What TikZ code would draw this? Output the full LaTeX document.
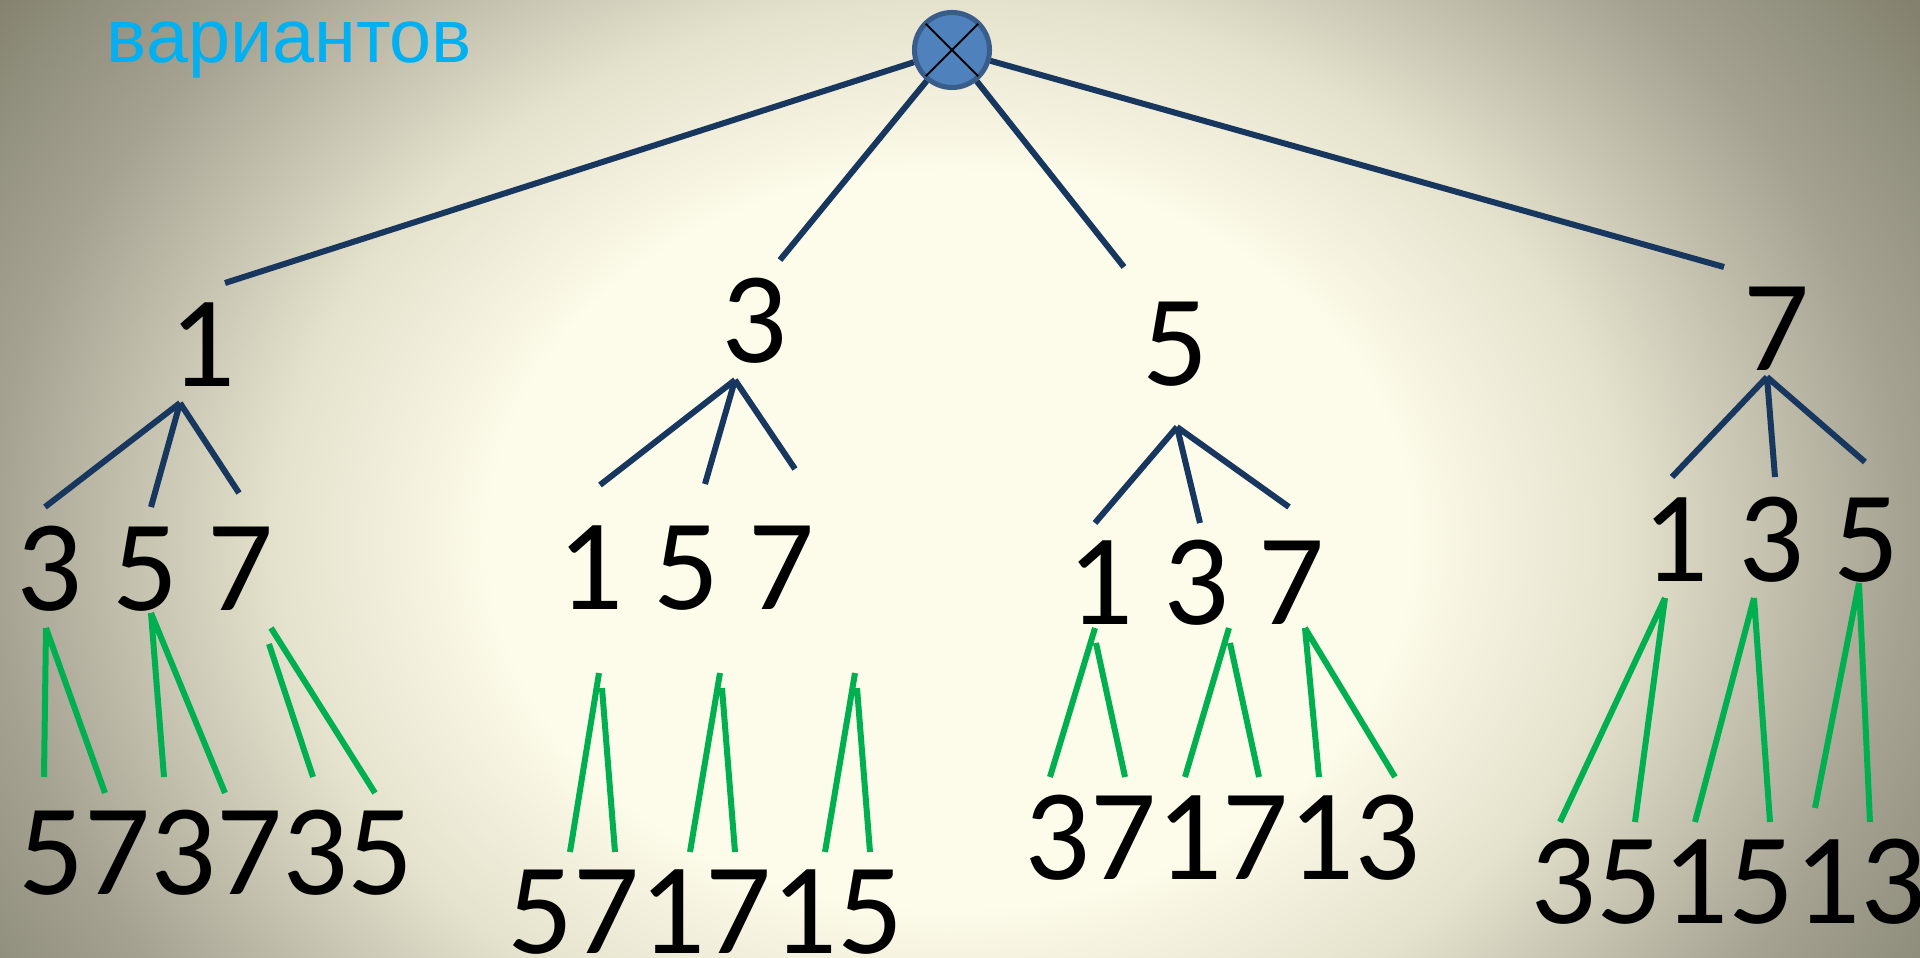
\documentclass[tikz,border=0pt]{standalone}
\usepackage{fontspec}
\setmainfont{Carlito}
\newfontfamily\rufont{Liberation Sans}
\definecolor{navy}{HTML}{17375E}
\definecolor{leafgreen}{HTML}{00B050}
\definecolor{titlecyan}{HTML}{00B0F0}
\definecolor{rootfill}{HTML}{4F81BD}
\definecolor{rootedge}{HTML}{385D8A}
\definecolor{bgin}{HTML}{FDFBE9}
\definecolor{bgmid}{HTML}{E4E1CC}
\definecolor{bgside}{HTML}{A5A292}
\definecolor{bgcorner}{HTML}{84826F}
\pgfdeclareradialshading{bgglow}{\pgfpoint{0bp}{0bp}}{color(0bp)=(bgin); color(9.2bp)=(bgin); color(13.5bp)=(bgmid); color(19.1bp)=(bgside); color(23.4bp)=(bgcorner); color(50bp)=(bgcorner)}
\tikzset{num/.style={inner sep=0pt, font=\fontsize{37}{40}\selectfont},
  blueline/.style={navy, line width=0.06cm},
  greenline/.style={leafgreen, line width=0.06cm}}

\begin{document}
\begin{tikzpicture}[x=0.01cm, y=-0.01cm]
      \useasboundingbox (0,0) rectangle (1920,958);
      \fill[bgcorner] (0,0) rectangle (1920,958);
      \begin{scope}
        \clip (0,0) rectangle (1920,958);
        \shade[shading=bgglow] (950,540) ellipse [x radius=12.5cm, y radius=10cm];
      \end{scope}

      \node[anchor=base west, inner sep=0pt, text=titlecyan, font=\rufont\fontsize{21.5}{26}\selectfont] (T) at (106,63) {вариантов};

      % root
      \node[circle, draw=rootedge, fill=rootfill, line width=0.05cm, minimum size=0.75cm, inner sep=0pt] (R) at (952,50) {};
      \draw[line width=0.02cm, shorten <=0.03cm, shorten >=0.03cm] (R.north west) -- (R.south east);
      \draw[line width=0.02cm, shorten <=0.03cm, shorten >=0.03cm] (R.north east) -- (R.south west);

      % first choice
      \node[num] (L1) at (202,345) {1};
      \node[num] (L3) at (754,321) {3};
      \node[num] (L5) at (1175,344) {5};
      \node[num] (L7) at (1776,329) {7};
      \coordinate (u1) at (225,283);
      \coordinate (u3) at (780,260);
      \coordinate (u5) at (1124,267);
      \coordinate (u7) at (1724,267);
      \draw[blueline] (R) -- (u1) (R) -- (u3) (R) -- (u5) (R) -- (u7);

      % second choice
      \node[num] (M1) at (145,569) {3 5 7};
      \node[num] (M3) at (686,568) {1 5 7};
      \node[num] (M5) at (1196,583) {1 3 7};
      \node[num] (M7) at (1771,540) {1 3 5};
      \coordinate (a1) at (180,403);
      \coordinate (a1l) at (45,507);
      \coordinate (a1m) at (151,507);
      \coordinate (a1r) at (239,493);
      \coordinate (a3) at (735,380);
      \coordinate (a3l) at (600,485);
      \coordinate (a3m) at (705,484);
      \coordinate (a3r) at (795,469);
      \coordinate (a5) at (1177,427);
      \coordinate (a5l) at (1095,523);
      \coordinate (a5m) at (1200,523);
      \coordinate (a5r) at (1289,507);
      \coordinate (a7) at (1767,377);
      \coordinate (a7l) at (1672,477);
      \coordinate (a7m) at (1775,477);
      \coordinate (a7r) at (1865,462);
      \draw[blueline] (a1) -- (a1l) (a1) -- (a1m) (a1) -- (a1r);
      \draw[blueline] (a3) -- (a3l) (a3) -- (a3m) (a3) -- (a3r);
      \draw[blueline] (a5) -- (a5l) (a5) -- (a5m) (a5) -- (a5r);
      \draw[blueline] (a7) -- (a7l) (a7) -- (a7m) (a7) -- (a7r);

      % third choice
      \node[num] (B1) at (216,853) {573735};
      \node[num] (B3) at (705,912) {571715};
      \node[num] (B5) at (1222,838) {371713};
      \node[num] (B7) at (1728,882) {351513};

      \coordinate (c1) at (46,628);    \coordinate (c1l) at (44,777);   \coordinate (c1r) at (105,793);
      \coordinate (c2) at (151,613);   \coordinate (c2l) at (164,777);  \coordinate (c2r) at (225,793);
      \coordinate (c3) at (271,628);   \coordinate (c3r) at (375,793);
      \coordinate (c3b) at (269,644);  \coordinate (c3l) at (313,777);
      \draw[greenline] (c1) -- (c1l) (c1) -- (c1r) (c2) -- (c2l) (c2) -- (c2r) (c3) -- (c3r) (c3b) -- (c3l);

      \coordinate (d1) at (599,673);   \coordinate (d1l) at (570,852);
      \coordinate (d1b) at (602,688);  \coordinate (d1r) at (615,852);
      \coordinate (d2) at (720,673);   \coordinate (d2l) at (690,852);
      \coordinate (d2b) at (722,688);  \coordinate (d2r) at (735,852);
      \coordinate (d3) at (855,673);   \coordinate (d3l) at (825,852);
      \coordinate (d3b) at (857,688);  \coordinate (d3r) at (870,852);
      \draw[greenline] (d1) -- (d1l) (d1b) -- (d1r) (d2) -- (d2l) (d2b) -- (d2r) (d3) -- (d3l) (d3b) -- (d3r);

      \coordinate (e1) at (1095,628);  \coordinate (e1l) at (1050,777);
      \coordinate (e1b) at (1096,643); \coordinate (e1r) at (1125,777);
      \coordinate (e2) at (1229,628);  \coordinate (e2l) at (1185,777);
      \coordinate (e2b) at (1230,643); \coordinate (e2r) at (1259,777);
      \coordinate (e3) at (1305,628);  \coordinate (e3l) at (1319,777);  \coordinate (e3r) at (1395,777);
      \draw[greenline] (e1) -- (e1l) (e1b) -- (e1r) (e2) -- (e2l) (e2b) -- (e2r) (e3) -- (e3l) (e3) -- (e3r);

      \coordinate (f1) at (1665,598);  \coordinate (f1l) at (1560,822);  \coordinate (f1r) at (1635,822);
      \coordinate (f2) at (1754,598);  \coordinate (f2l) at (1695,822);  \coordinate (f2r) at (1770,822);
      \coordinate (f3) at (1859,583);  \coordinate (f3l) at (1815,808);  \coordinate (f3r) at (1870,822);
      \draw[greenline] (f1) -- (f1l) (f1) -- (f1r) (f2) -- (f2l) (f2) -- (f2r) (f3) -- (f3l) (f3) -- (f3r);
    \end{tikzpicture}
\end{document}
